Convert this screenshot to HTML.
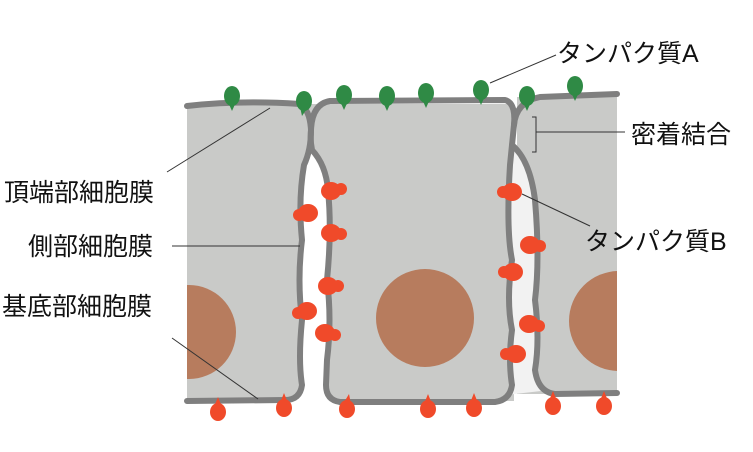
<!DOCTYPE html>
<html><head><meta charset="utf-8"><style>
html,body{margin:0;padding:0;background:#fff;width:753px;height:452px;overflow:hidden}
svg{display:block}
text{font-family:"Liberation Sans","Noto Sans CJK JP",sans-serif;font-size:25px;fill:#111}
</style></head><body>
<svg width="753" height="452" viewBox="0 0 753 452">
<defs>
<clipPath id="lc"><rect x="187" y="100" width="120" height="300"/></clipPath>
<clipPath id="rc"><rect x="520" y="95" width="97" height="300"/></clipPath>
</defs>
<!-- gray background -->
<rect x="187" y="104" width="327" height="297" fill="#c9cac8"/>
<rect x="517" y="97" width="100" height="297" fill="#c9cac8"/>
<!-- gaps -->
<path d="M304,165 L312,150 Q326,165 328,190 Q332,230 327,280 Q332,320 327,360 L326,385 Q328,400 340,404 L285,404 Q300,400 302,385 Q298,360 302,320 Q297,280 302,240 Q298,200 304,165 Z" fill="#fff"/>
<path d="M512,145 Q530,160 535,200 Q540,260 535,300 Q540,340 535,370 Q537,386 541,391 L506,395 Q511,391 512,385 Q508,360 512,330 Q506,300 512,260 Q506,230 510,165 Z" fill="#f2f2f2"/>
<rect x="617" y="90" width="20" height="320" fill="#fff"/>
<!-- nuclei -->
<circle cx="425" cy="318" r="49" fill="#b77c5e"/>
<circle cx="189" cy="332" r="47" fill="#b77c5e" clip-path="url(#lc)"/>
<circle cx="619" cy="321" r="50" fill="#b77c5e" clip-path="url(#rc)"/>
<!-- membranes -->
<g fill="none" stroke="#7f7f7f" stroke-width="6" stroke-linecap="round" stroke-linejoin="round">
<path d="M187,106 Q240,100 300,104 Q310,110 311,130 Q311,150 304,165 Q298,200 302,240 Q297,280 302,320 Q298,360 302,385 Q300,400 285,400 L187,401"/>
<path d="M311,130 Q312,104 330,101 L505,100 Q516,103 514,125 Q512,145 510,165 Q506,230 512,260 Q506,300 512,330 Q508,360 512,385 Q510,400 495,402 L340,402 Q326,400 326,385 L327,360 Q332,320 327,280 Q332,230 328,190 Q326,165 312,150 Q310,140 311,130"/>
<path d="M514,125 Q516,102 540,97 L617,94"/>
<path d="M512,145 Q530,160 535,200 Q540,260 535,300 Q540,340 535,370 Q538,392 555,394 L617,393"/>
</g>
<!-- green proteins -->
<g fill="#2f8a45">
<g transform="translate(232,96)"><ellipse cx="0" cy="0" rx="8" ry="10"/><path d="M-4,6 L0,15 L4,6Z"/></g>
<g transform="translate(304,101)"><ellipse cx="0" cy="0" rx="8" ry="10"/><path d="M-4,6 L-2,15 L4,6Z"/></g>
<g transform="translate(344,95)"><ellipse cx="0" cy="0" rx="8" ry="10"/><path d="M-4,6 L0,15 L4,6Z"/></g>
<g transform="translate(387,96)"><ellipse cx="0" cy="0" rx="8" ry="10"/><path d="M-4,6 L0,15 L4,6Z"/></g>
<g transform="translate(426,93)"><ellipse cx="0" cy="0" rx="8" ry="10"/><path d="M-4,6 L0,15 L4,6Z"/></g>
<g transform="translate(481,90)"><ellipse cx="0" cy="0" rx="8" ry="10"/><path d="M-4,6 L0,15 L4,6Z"/></g>
<g transform="translate(527,96)"><ellipse cx="0" cy="0" rx="8" ry="10"/><path d="M-4,6 L0,15 L4,6Z"/></g>
<g transform="translate(575,86)"><ellipse cx="0" cy="0" rx="8" ry="10"/><path d="M-4,6 L0,15 L4,6Z"/></g>
</g>
<!-- red proteins -->
<g fill="#f04a2a">
<g transform="translate(218,410)"><ellipse cx="0" cy="2" rx="8" ry="9"/><path d="M-4,-3 L0,-13 L4,-3Z"/></g>
<g transform="translate(284,406)"><ellipse cx="0" cy="2" rx="8" ry="9"/><path d="M-4,-3 L0,-13 L4,-3Z"/></g>
<g transform="translate(347,407)"><ellipse cx="0" cy="2" rx="8" ry="9"/><path d="M-4,-3 L2,-13 L4,-3Z"/></g>
<g transform="translate(428,407)"><ellipse cx="0" cy="2" rx="8" ry="9"/><path d="M-4,-3 L0,-13 L4,-3Z"/></g>
<g transform="translate(474,406)"><ellipse cx="0" cy="2" rx="8" ry="9"/><path d="M-4,-3 L0,-13 L4,-3Z"/></g>
<g transform="translate(553,404)"><ellipse cx="0" cy="2" rx="8" ry="9"/><path d="M-4,-3 L0,-13 L4,-3Z"/></g>
<g transform="translate(604,404)"><ellipse cx="0" cy="2" rx="8" ry="9"/><path d="M-4,-3 L0,-13 L4,-3Z"/></g>
<ellipse cx="331" cy="191" rx="10" ry="9"/><ellipse cx="341" cy="189" rx="6" ry="6"/>
<ellipse cx="308" cy="213" rx="10" ry="9"/><ellipse cx="299" cy="215" rx="6" ry="6"/>
<ellipse cx="331" cy="233" rx="10" ry="9"/><ellipse cx="341" cy="234" rx="6" ry="6"/>
<ellipse cx="328" cy="286" rx="10" ry="9"/><ellipse cx="338" cy="286" rx="6" ry="6"/>
<ellipse cx="307" cy="311" rx="10" ry="9"/><ellipse cx="298" cy="313" rx="6" ry="6"/>
<ellipse cx="325" cy="333" rx="10" ry="9"/><ellipse cx="335" cy="335" rx="6" ry="6"/>
<ellipse cx="512" cy="192" rx="10" ry="9"/><ellipse cx="503" cy="192" rx="6" ry="6"/>
<ellipse cx="530" cy="245" rx="10" ry="9"/><ellipse cx="540" cy="246" rx="6" ry="6"/>
<ellipse cx="513" cy="272" rx="10" ry="9"/><ellipse cx="504" cy="272" rx="6" ry="6"/>
<ellipse cx="529" cy="324" rx="10" ry="9"/><ellipse cx="539" cy="326" rx="6" ry="6"/>
<ellipse cx="516" cy="354" rx="10" ry="9"/><ellipse cx="506" cy="354" rx="6" ry="6"/>
</g>
<!-- leader lines -->
<g stroke="#333" stroke-width="1" fill="none">
<line x1="490" y1="83" x2="556" y2="55"/>
<path d="M532,117 L536,117 L536,152 L532,152"/>
<line x1="536" y1="132" x2="625" y2="132"/>
<line x1="522" y1="194" x2="590" y2="226"/>
<line x1="270" y1="108" x2="167" y2="172"/>
<line x1="300" y1="246" x2="172" y2="246"/>
<line x1="258" y1="399" x2="172" y2="338"/>
</g>
<!-- labels -->
<text x="557" y="62">タンパク質A</text>
<text x="631" y="143">密着結合</text>
<text x="585" y="250">タンパク質B</text>
<text x="4" y="201">頂端部細胞膜</text>
<text x="28" y="255">側部細胞膜</text>
<text x="2" y="315">基底部細胞膜</text>
</svg>
</body></html>
